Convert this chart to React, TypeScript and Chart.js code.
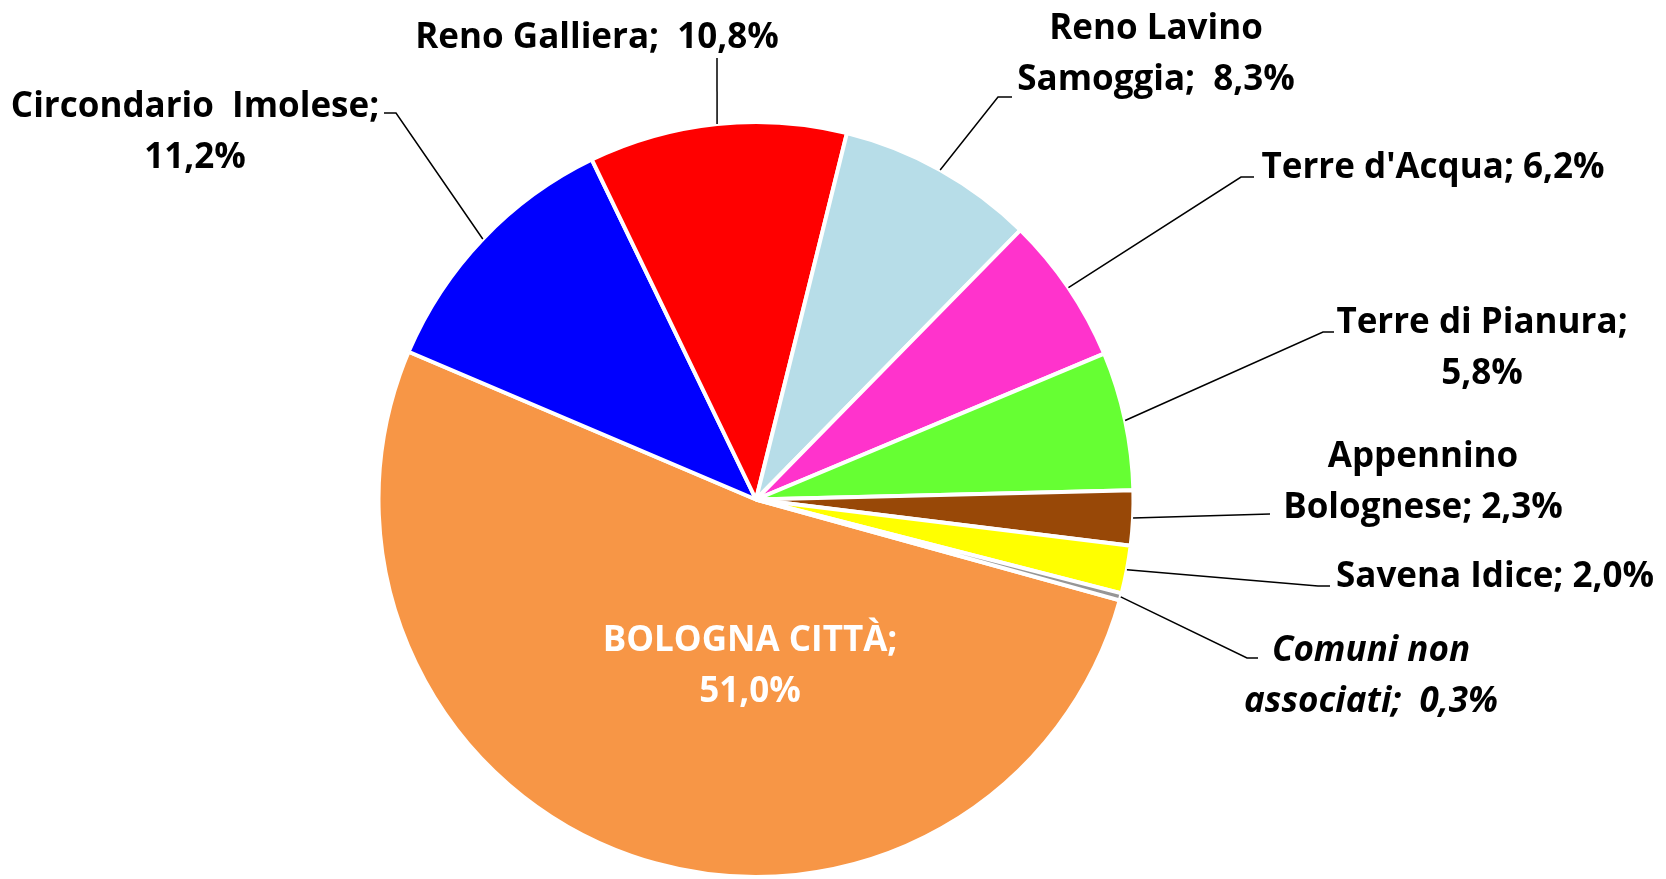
import React, { useEffect, useRef } from "react";
import { Chart, registerables } from "chart.js";

Chart.register(...registerables);

const categories = [
  "BOLOGNA CITTÀ",
  "Circondario Imolese",
  "Reno Galliera",
  "Reno Lavino Samoggia",
  "Terre d'Acqua",
  "Terre di Pianura",
  "Appennino Bolognese",
  "Savena Idice",
  "Comuni non associati",
];

const shares = [51.0, 11.2, 10.8, 8.3, 6.2, 5.8, 2.3, 2.0, 0.3];

const sliceColors = [
  "#F79646",
  "#0000FF",
  "#FF0000",
  "#B7DDE8",
  "#FF33CC",
  "#66FF33",
  "#984807",
  "#FFFF00",
  "#969696",
];

// label text lines (as shown in the chart)
const labelLines: string[][] = [
  ["BOLOGNA CITTÀ;", "51,0%"],
  ["Circondario  Imolese;", "11,2%"],
  ["Reno Galliera;  10,8%"],
  ["Reno Lavino", "Samoggia;  8,3%"],
  ["Terre d'Acqua; 6,2%"],
  ["Terre di Pianura;", "5,8%"],
  ["Appennino", "Bolognese; 2,3%"],
  ["Savena Idice; 2,0%"],
  ["Comuni non", "associati;  0,3%"],
];

// layout of labels: center x, first baseline y
const labelPos: [number, number][] = [
  [750, 651],
  [195, 117],
  [597, 48],
  [1156, 39],
  [1433, 178],
  [1482, 333],
  [1423, 467],
  [1495, 587],
  [1371, 661],
];

// leader lines: start point at label, optional elbow
const leaderStart: ([number, number] | null)[] = [
  null,
  [384, 113],
  [717, 58],
  [1012, 97],
  [1254, 177],
  [1334, 332],
  [1270, 514],
  [1330, 586],
  [1258, 658],
];
const leaderElbow: ([number, number] | null)[] = [
  null,
  [396, 113],
  null,
  [998, 97],
  [1241, 177],
  [1323, 332],
  null,
  [1318, 586],
  [1247, 658],
];

const FONT_FAMILY = "'Open Sans', Lato, sans-serif";
const FONT_SIZE = 35;
const LINE_H = 51;

const labelPlugin = {
  id: "pieLabels",
  afterDraw(chart: any) {
    const ctx = chart.ctx;
    const meta = chart.getDatasetMeta(0);
    ctx.save();
    meta.data.forEach((arc: any, i: number) => {
      const p = arc.getProps(["x", "y", "startAngle", "endAngle", "outerRadius"], true);
      const mid = (p.startAngle + p.endAngle) / 2;
      const ax = p.x + p.outerRadius * Math.cos(mid);
      const ay = p.y + p.outerRadius * Math.sin(mid);
      const s = leaderStart[i];
      if (s) {
        ctx.beginPath();
        ctx.strokeStyle = "#000";
        ctx.lineWidth = 1.5;
        ctx.moveTo(s[0], s[1]);
        const e = leaderElbow[i];
        if (e) ctx.lineTo(e[0], e[1]);
        ctx.lineTo(ax, ay);
        ctx.stroke();
      }
      const italic = i === 8 ? "italic " : "";
      ctx.font = `${italic}bold ${FONT_SIZE}px ${FONT_FAMILY}`;
      ctx.fillStyle = i === 0 ? "#FFFFFF" : "#000000";
      ctx.textAlign = "center";
      ctx.textBaseline = "alphabetic";
      const [cx, by] = labelPos[i];
      labelLines[i].forEach((line, k) => {
        ctx.fillText(line, cx, by + k * LINE_H);
      });
    });
    ctx.restore();
  },
};

export default function App() {
  const ref = useRef<HTMLCanvasElement | null>(null);
  useEffect(() => {
    if (!ref.current) return;
    const chart = new Chart(ref.current, {
      type: "pie",
      data: {
        labels: categories,
        datasets: [
          {
            data: shares,
            backgroundColor: sliceColors,
            borderColor: "#FFFFFF",
            borderWidth: 4,
            hoverOffset: 0,
          },
        ],
      },
      options: {
        responsive: false,
        animation: false,
        rotation: 105.5,
        layout: { padding: { left: 376, right: 530, top: 120, bottom: 0 } },
        plugins: {
          legend: { display: false },
          tooltip: { enabled: false },
        },
        events: [],
      },
      plugins: [labelPlugin],
    });
    return () => chart.destroy();
  }, []);
  return (
    <div style={{ position: "absolute", left: 0, top: 0, width: 1666, height: 879, background: "#fff" }}>
      <canvas ref={ref} width={1666} height={879} style={{ display: "block" }} />
    </div>
  );
}
